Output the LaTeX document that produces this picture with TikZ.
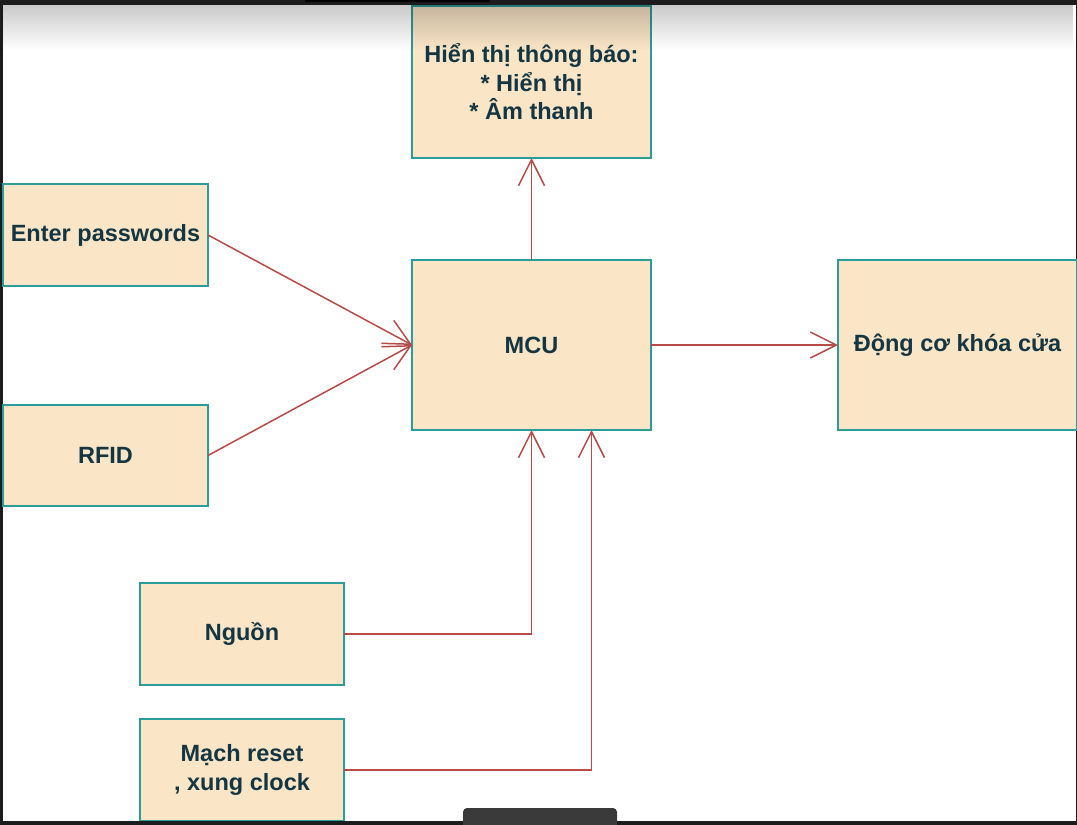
\documentclass[tikz,border=0pt]{standalone}
\usepackage{fontspec}
\setmainfont{Liberation Sans}
\usetikzlibrary{arrows.meta,fadings}
\definecolor{boxfill}{HTML}{FAE5C7}
\definecolor{boxline}{HTML}{2A9D9A}
\definecolor{txt}{HTML}{143642}
\definecolor{arrc}{HTML}{B84A48}
\definecolor{frame}{HTML}{1C1C1C}
\definecolor{tabc}{HTML}{3A3A3A}
\tikzset{
  blk/.style={draw=boxline, fill=boxfill, line width=1.8pt, inner sep=0pt, outer sep=0pt,
    anchor=north west, align=center, text=txt,
    font=\bfseries\fontsize{23.5}{28.5}\selectfont},
  arr/.style={draw=arrc, line width=1.5pt,
    -{Straight Barb[length=26pt,width=26pt,line width=1.5pt]}}
}
\begin{document}
\begin{tikzpicture}[x=1pt,y=-1pt]
\useasboundingbox (0,0) rectangle (1077,825);
% screenshot frame
\fill[frame] (0,0) rectangle (1077,825);
\fill[white] (3,5) rectangle (1076,821);
% boxes
\node[blk, minimum width=239pt, minimum height=152pt] (disp) at (412,6)
  {Hiển thị thông báo:\\ * Hiển thị\\ * Âm thanh};
\node[blk, minimum width=205pt, minimum height=102pt] (pw) at (3,184) {Enter passwords};
\node[blk, minimum width=205pt, minimum height=101pt] (rfid) at (3,405) {RFID};
\node[blk, minimum width=239pt, minimum height=170pt] (mcu) at (412,260) {MCU};
\node[blk, minimum width=239pt, minimum height=170pt] (dc) at (838,260) {Động cơ khóa cửa};
\node[blk, minimum width=204pt, minimum height=102pt] (ng) at (140,583) {Nguồn};
\node[blk, minimum width=204pt, minimum height=102pt] (mr) at (140,719) {Mạch reset\\ , xung clock};
% connectors
\draw[arr] (pw.east) -- (mcu.west);
\draw[arr] (rfid.east) -- (mcu.west);
\draw[arr] (mcu.north) -- (disp.south);
\draw[arr] (mcu.east) -- (dc.west);
\draw[arr] (ng.east) -| (mcu.south);
\coordinate (mcub) at ([xshift=60pt]mcu.south);
\draw[arr] (mr.east) -| (mcub);
% top shadow of the screenshot
\fill[black, opacity=0.28, path fading=south] (3,-10) rectangle (1076,50);
\fill[frame] (0,0) rectangle (1077,5);
\fill[black] (305,0) rectangle (490,2);
% bottom tab
\fill[tabc, rounded corners=4pt] (463,808) rectangle (617,835);
\fill[frame] (0,821) rectangle (1077,825);
\fill[tabc] (463,821) rectangle (617,825);
\end{tikzpicture}
\end{document}
